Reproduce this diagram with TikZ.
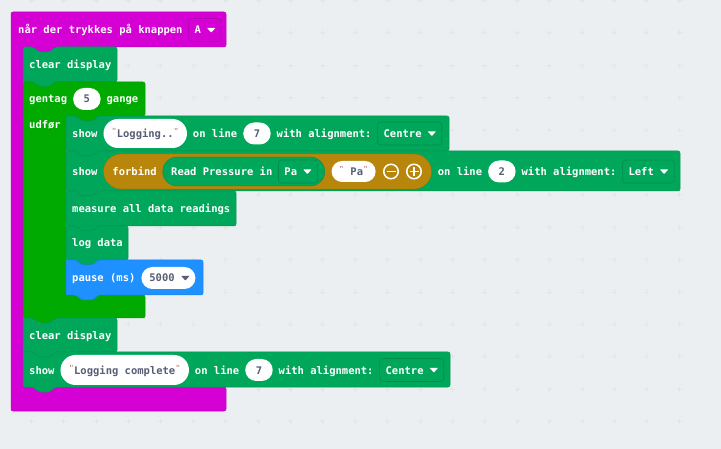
\documentclass[tikz,border=0pt]{standalone}
\usepackage{fontspec}
\setmonofont{DejaVu Sans Mono}
\usetikzlibrary{positioning,shapes.misc}

\definecolor{wsbg}{HTML}{ECEFF1}
\definecolor{wsgrid}{HTML}{E2E5E8}
\definecolor{hatcol}{HTML}{D400D4}
\definecolor{showcol}{HTML}{00A65A}
\definecolor{loopcol}{HTML}{00AA00}
\definecolor{pausecol}{HTML}{1E90FF}
\definecolor{joincol}{HTML}{B8860B}
\definecolor{valtext}{HTML}{575E75}
\definecolor{quotecol}{HTML}{B9806C}

\newcommand{\qm}{\raisebox{3.5pt}{\fontsize{7}{7}\selectfont\color{quotecol}"}}
\newcommand{\quoted}[1]{\llap{\qm\kern.5pt}#1\rlap{\kern.5pt\qm}}

\tikzset{
  notch/.style={insert path={-- ++(10,0) -- ++(6,5) -- ++(11,0) -- ++(5,-5)}},
  tab/.style={insert path={-- ++(-5,5) -- ++(-11,0) -- ++(-6,-5)}},
  blockedge/.style={rounded corners=2pt,line width=.5pt,fill=#1,draw=#1!92!black},
  lbl/.style={inner sep=0pt,text=white,text height=9pt,text depth=1pt,
    font=\ttfamily\bfseries\fontsize{10.5}{12}\selectfont},
  pill/.style={lbl,shape=rounded rectangle,fill=white,text=valtext,inner xsep=1pt,
    minimum height=22pt,minimum width=29.5pt},
  strpill/.style 2 args={pill,minimum width=#1,minimum height=#2},
  dd/.style={lbl,rounded corners=3pt,fill=#1,draw=#1!85!black,line width=.6pt,
    inner xsep=6pt,minimum height=23pt,execute at end node={\hspace{14.2pt}}},
  btn/.style={circle,draw=white,line width=1.5pt,minimum size=14.5pt,inner sep=0pt},
}

\newcommand{\plainblock}[5]{
  \draw[blockedge=#1] (#2,#3) [notch] -- (#4,#3) -- (#4,#5) -- (#2+32,#5) [tab] -- (#2,#5) -- cycle;
}
\newcommand{\ddtip}[2]{
  \fill[#2,rounded corners=.6pt] ([shift={(-14.5,-2.2)}]#1.east) -- ++(8.5,0) -- ++(-4.25,4.8) -- cycle;
}

\begin{document}
\begin{tikzpicture}[x=1pt,y=-1pt,node distance=5.6pt]

  \useasboundingbox (0,0) rectangle (721,449);
  \fill[wsbg] (0,0) rectangle (721,449);
  \foreach \i in {0,...,21}
    \foreach \j in {0,...,13}
      \draw[wsgrid,line width=.8pt] (-1.2+32.4*\i-2.5,.4+32.4*\j) -- ++(5,0)
        (-1.2+32.4*\i,.4+32.4*\j-2.5) -- ++(0,5);

  \draw[blockedge=hatcol] (11,12) -- (226,12) -- (226,47) -- (55,47) [tab]
    -- (23,47) -- (23,387) -- (226,387) -- (226,411) -- (11,411) -- cycle;
  \plainblock{showcol}{23}{47}{117}{82}
  \draw[blockedge=loopcol] (23,82) [notch] -- (145,82) -- (145,116) -- (98,116) [tab]
    -- (66,116) -- (66,295) -- (145,295) -- (145,318) -- (55,318) [tab] -- (23,318) -- cycle;
  \plainblock{showcol}{66}{116}{449}{151}
  \plainblock{showcol}{66}{151}{680}{191}
  \plainblock{showcol}{66}{191}{236}{226}
  \plainblock{showcol}{66}{226}{128}{260}
  \plainblock{pausecol}{66}{260}{203}{295}
  \plainblock{showcol}{23}{318}{117}{352}
  \plainblock{showcol}{23}{352}{450}{387}

  \node[lbl,anchor=west] (whenlbl) at (18,30) {når der trykkes på knappen};
  \node[dd=hatcol,right=of whenlbl] (btnsel) {A};
  \ddtip{btnsel}{white}

  \node[lbl,anchor=west] (clearone) at (29,65) {clear display};

  \node[lbl,anchor=west] (repeatlbl) at (29,99) {gentag};
  \node[pill,right=of repeatlbl] (repeatval) {5};
  \node[lbl,right=of repeatval] (timeslbl) {gange};
  \node[lbl,anchor=west] (dolbl) at (29,124.5) {udfør};

  \node[lbl,anchor=west] (showone) at (72,133.5) {show};
  \node[strpill={85.5pt}{29pt},right=of showone] (logtxt) {\quoted{Logging..}};
  \node[lbl,right=of logtxt] (lineone) {on line};
  \node[pill,right=of lineone] (lineoneval) {7};
  \node[lbl,right=of lineoneval] (alignone) {with alignment:};
  \node[dd=showcol,right=of alignone] (alignoneval) {Centre};
  \ddtip{alignoneval}{white}

  \node[lbl,anchor=west] (showtwo) at (72,171.5) {show};
  \node[pill,fill=joincol,draw=joincol!85!black,minimum width=330pt,minimum height=35pt,right=of showtwo] (joinbg) {};
  \node[lbl,right=9pt of joinbg.west] (joinlbl) {forbind};
  \node[pill,fill=showcol,draw=showcol!85!black,minimum width=164pt,minimum height=29pt,right=of joinlbl] (readbg) {};
  \node[lbl,right=8.5pt of readbg.west] (readlbl) {Read Pressure in};
  \node[dd=showcol,right=of readlbl] (unitval) {Pa};
  \ddtip{unitval}{white}
  \node[strpill={46pt}{21pt},right=6.5pt of readbg] (unittxt) {\quoted{\ Pa}};
  \node[btn] (minusbtn) at (391,171.5) {};
  \node[btn] (plusbtn) at (414,171.5) {};
  \draw[white,line width=1.6pt] ([xshift=3.5pt]minusbtn.west) -- ([xshift=-3.5pt]minusbtn.east)
    ([xshift=3.5pt]plusbtn.west) -- ([xshift=-3.5pt]plusbtn.east)
    ([yshift=3.5pt]plusbtn.south) -- ([yshift=-3.5pt]plusbtn.north);
  \node[lbl,right=6pt of joinbg] (linetwo) {on line};
  \node[pill,right=of linetwo] (linetwoval) {2};
  \node[lbl,right=of linetwoval] (aligntwo) {with alignment:};
  \node[dd=showcol,right=of aligntwo] (aligntwoval) {Left};
  \ddtip{aligntwoval}{white}

  \node[lbl,anchor=west] (measurelbl) at (72,209) {measure all data readings};
  \node[lbl,anchor=west] (loglbl) at (72,243) {log data};
  \node[lbl,anchor=west] (pauselbl) at (72,278) {pause (ms)};
  \node[pill,right=of pauselbl,minimum width=56pt] (pauseval) {};
  \node[lbl,text=valtext,right=8pt of pauseval.west] (pausenum) {5000};
  \ddtip{pauseval}{valtext}

  \node[lbl,anchor=west] (cleartwo) at (29,336) {clear display};

  \node[lbl,anchor=west] (showthree) at (29,370) {show};
  \node[strpill={130.5pt}{30pt},right=of showthree] (donetxt) {\quoted{Logging complete}};
  \node[lbl,right=of donetxt] (linethree) {on line};
  \node[pill,right=of linethree] (linethreeval) {7};
  \node[lbl,right=of linethreeval] (alignthree) {with alignment:};
  \node[dd=showcol,right=of alignthree] (alignthreeval) {Centre};
  \ddtip{alignthreeval}{white}

\end{tikzpicture}
\end{document}
